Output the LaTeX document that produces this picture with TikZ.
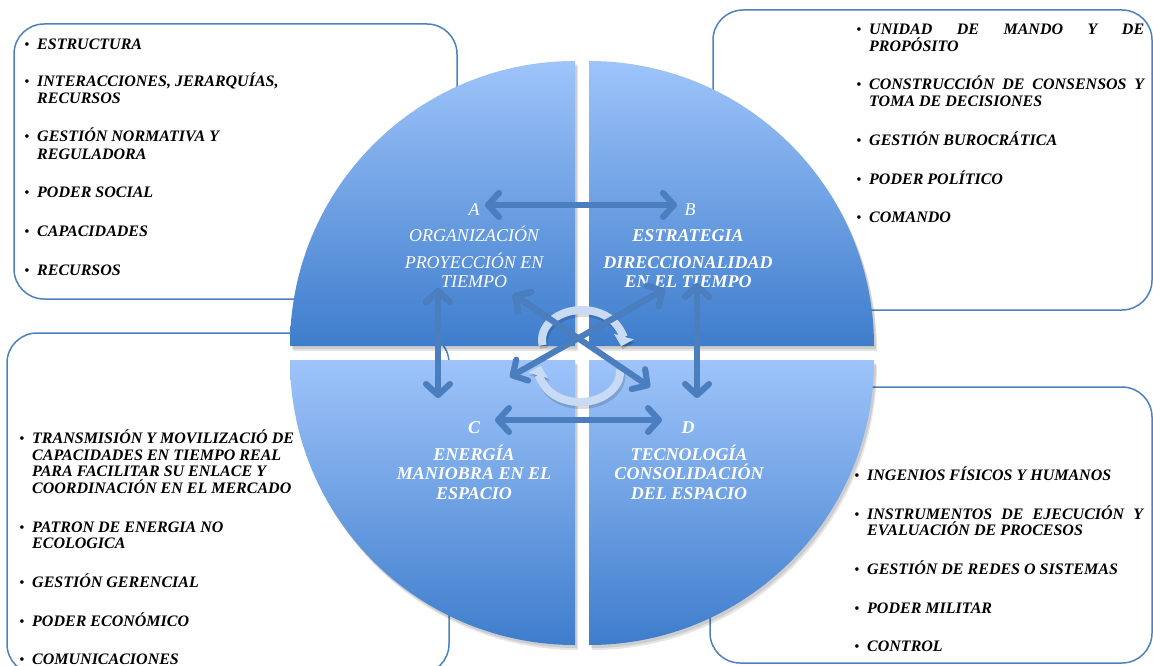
\documentclass[tikz,border=0pt]{standalone}
\usepackage{fontspec}
\setmainfont{Liberation Serif}
\usetikzlibrary{arrows.meta}
\definecolor{boxc}{RGB}{79,129,189}
\definecolor{qlight}{RGB}{158,196,250}
\definecolor{qdark}{RGB}{62,125,204}
\definecolor{arrc}{RGB}{74,126,190}
\definecolor{circc}{RGB}{200,218,244}
\begin{document}
\begin{tikzpicture}[x=1pt,y=-1pt,
  boxst/.style={draw=boxc, line width=1.5pt, fill=white, rounded corners=30pt},
  item/.style={anchor=base west, inner sep=0pt, font=\fontsize{16}{16.7}\selectfont\bfseries\itshape},
  bul/.style={anchor=base, inner sep=0pt, font=\fontsize{15}{16.7}\selectfont},
  lab/.style={anchor=base, inner sep=0pt, text=white, font=\fontsize{18}{19.5}\selectfont\itshape},
  labb/.style={anchor=base, inner sep=0pt, text=white, font=\fontsize{18}{19.5}\selectfont\bfseries\itshape},
  quad/.style={top color=qlight, bottom color=qdark},
  qshadow/.style={fill=black, opacity=0.10},
  dbl/.style={draw=arrc, line width=6pt, {Straight Barb[length=11pt,width=24pt,round]}-{Straight Barb[length=11pt,width=24pt,round]}},
  dblshadow/.style={draw=black, opacity=0.12, line width=6pt, {Straight Barb[length=11pt,width=24pt,round]}-{Straight Barb[length=11pt,width=24pt,round]}},
  circarrow/.style={draw=circc, line width=8pt, -{Triangle[length=10pt,width=20pt]}},
  circshadow/.style={draw=black, opacity=0.14, line width=8pt, -{Triangle[length=10pt,width=20pt]}}
]
\useasboundingbox (0,0) rectangle (1153,666);
\fill[white] (0,0) rectangle (1153,666);

% ---------- boxes ----------
\draw[boxst] (14,24) rectangle (457,299);
\draw[boxst] (713,10) rectangle (1152,310);
\draw[boxst] (7,333) rectangle (449,674);
\draw[boxst] (710,387) rectangle (1152,663);

% ---------- quadrant shadows ----------
\foreach \dx/\dy in {2/3,3/5}{
  \fill[qshadow] (575+\dx,346+\dy) -- (290+\dx,346+\dy) arc[start angle=180,end angle=270,radius=285] -- cycle;
  \fill[qshadow] (589+\dx,346+\dy) -- (589+\dx,61+\dy) arc[start angle=270,end angle=360,radius=285] -- cycle;
  \fill[qshadow] (575+\dx,360+\dy) -- (290+\dx,360+\dy) arc[start angle=180,end angle=90,radius=285] -- cycle;
  \fill[qshadow] (589+\dx,360+\dy) -- (874+\dx,360+\dy) arc[start angle=0,end angle=90,radius=285] -- cycle;
}
% ---------- quadrants ----------
\shade[quad] (575,346) -- (290,346) arc[start angle=180,end angle=270,radius=285] -- cycle;
\shade[quad] (589,346) -- (589,61) arc[start angle=270,end angle=360,radius=285] -- cycle;
\shade[quad] (575,360) -- (290,360) arc[start angle=180,end angle=90,radius=285] -- cycle;
\shade[quad] (589,360) -- (874,360) arc[start angle=0,end angle=90,radius=285] -- cycle;

% ---------- box texts ----------
% top-left
\node[bul] (tlb1) at (27,49.3) {•};   \node[item] (tl1) at (37,49.3) {ESTRUCTURA};
\node[bul] (tlb2) at (27,86.7) {•};   \node[item] (tl2) at (37,86.7) {INTERACCIONES, JERARQUÍAS,};
\node[item] (tl2b) at (37,103.3) {RECURSOS};
\node[bul] (tlb3) at (27,141.7) {•};  \node[item] (tl3) at (37,141.7) {GESTIÓN NORMATIVA Y};
\node[item] (tl3b) at (37,159) {REGULADORA};
\node[bul] (tlb4) at (27,197.7) {•};  \node[item] (tl4) at (37,197.7) {PODER SOCIAL};
\node[bul] (tlb5) at (27,236) {•};    \node[item] (tl5) at (37,236) {CAPACIDADES};
\node[bul] (tlb6) at (27,275) {•};    \node[item] (tl6) at (37,275) {RECURSOS};
% top-right
\node[bul] (trb1) at (859,35) {•};    \node[item] (tr1) at (869,35) {\makebox[275pt][s]{UNIDAD DE MANDO Y DE}};
\node[item] (tr1b) at (869,51.7) {PROPÓSITO};
\node[bul] (trb2) at (859,90) {•};    \node[item] (tr2) at (869,90) {\makebox[275pt][s]{CONSTRUCCIÓN DE CONSENSOS Y}};
\node[item] (tr2b) at (869,106.7) {TOMA DE DECISIONES};
\node[bul] (trb3) at (859,145) {•};   \node[item] (tr3) at (869,145) {GESTIÓN BUROCRÁTICA};
\node[bul] (trb4) at (859,184.3) {•}; \node[item] (tr4) at (869,184.3) {PODER POLÍTICO};
\node[bul] (trb5) at (859,222.7) {•}; \node[item] (tr5) at (869,222.7) {COMANDO};
% bottom-left
\node[bul] (blb1) at (22,443.7) {•};  \node[item] (bl1) at (32,443.7) {TRANSMISIÓN Y MOVILIZACIÓ DE};
\node[item] (bl1b) at (32,460.7) {CAPACIDADES EN TIEMPO REAL};
\node[item] (bl1c) at (32,476.7) {PARA FACILITAR SU ENLACE Y};
\node[item] (bl1d) at (32,493.3) {COORDINACIÓN EN EL MERCADO};
\node[bul] (blb2) at (22,532.7) {•};  \node[item] (bl2) at (32,532.7) {PATRON DE ENERGIA NO};
\node[item] (bl2b) at (32,548.3) {ECOLOGICA};
\node[bul] (blb3) at (22,587.7) {•};  \node[item] (bl3) at (32,587.7) {GESTIÓN GERENCIAL};
\node[bul] (blb4) at (22,626.7) {•};  \node[item] (bl4) at (32,626.7) {PODER ECONÓMICO};
\node[bul] (blb5) at (22,664) {•};    \node[item] (bl5) at (32,664) {COMUNICACIONES};
% bottom-right
\node[bul] (brb1) at (857,480) {•};   \node[item] (br1) at (867,480) {INGENIOS FÍSICOS Y HUMANOS};
\node[bul] (brb2) at (857,519.3) {•}; \node[item] (br2) at (867,519.3) {\makebox[276pt][s]{INSTRUMENTOS DE EJECUCIÓN Y}};
\node[item] (br2b) at (867,535) {EVALUACIÓN DE PROCESOS};
\node[bul] (brb3) at (857,574.3) {•}; \node[item] (br3) at (867,574.3) {GESTIÓN DE REDES O SISTEMAS};
\node[bul] (brb4) at (857,613.3) {•}; \node[item] (br4) at (867,613.3) {PODER MILITAR};
\node[bul] (brb5) at (857,651.7) {•}; \node[item] (br5) at (867,651.7) {CONTROL};

% ---------- circle labels ----------
\node[lab] (la) at (474,215) {A};
\node[lab] (la1) at (474,241.7) {ORGANIZACIÓN};
\node[lab] (la2) at (474,268.5) {PROYECCIÓN EN};
\node[lab] (la3) at (474,287) {TIEMPO};
\node[lab] (lb) at (690,215) {B};
\node[labb] (lb1) at (688,241.7) {ESTRATEGIA};
\node[labb] (lb2) at (688,268.5) {DIRECCIONALIDAD};
\node[labb] (lb3) at (688,287) {EN EL TIEMPO};
\node[labb] (lc) at (474,433) {C};
\node[labb] (lc1) at (474,460) {ENERGÍA};
\node[labb] (lc2) at (474,479.3) {MANIOBRA EN EL};
\node[labb] (lc3) at (474,499.3) {ESPACIO};
\node[labb] (ld) at (688,433) {D};
\node[labb] (ld1) at (689,460) {TECNOLOGÍA};
\node[labb] (ld2) at (689,479.3) {CONSOLIDACIÓN};
\node[labb] (ld3) at (689,499.3) {DEL ESPACIO};

% ---------- circular arrows ----------
\draw[circshadow] (583.5,343) ++(170:40 and 30) arc[start angle=170,end angle=372,x radius=40,y radius=30];
\draw[circshadow] (581.5,375) ++(-5:40 and 30) arc[start angle=-5,end angle=192,x radius=40,y radius=30];
\draw[circarrow] (582,340) ++(170:40 and 30) arc[start angle=170,end angle=372,x radius=40,y radius=30];
\draw[circarrow] (580,372) ++(-5:40 and 30) arc[start angle=-5,end angle=192,x radius=40,y radius=30];

% ---------- arrow end points ----------
\coordinate (h1a) at (485,205); \coordinate (h1b) at (677,205);
\coordinate (h2a) at (495,420); \coordinate (h2b) at (662,420);
\coordinate (v1a) at (438,288); \coordinate (v1b) at (438,398);
\coordinate (v2a) at (697,283); \coordinate (v2b) at (697,398);
\coordinate (d1a) at (513,294); \coordinate (d1b) at (650,387);
\coordinate (d2a) at (665,289); \coordinate (d2b) at (510,377);

\begin{scope}[shift={(1.5,3)}]
\foreach \a/\b in {h1a/h1b,h2a/h2b,v1a/v1b,v2a/v2b,d1a/d1b,d2a/d2b}
  \draw[dblshadow] (\a) -- (\b);
\end{scope}
\foreach \a/\b in {h1a/h1b,h2a/h2b,v1a/v1b,v2a/v2b,d1a/d1b,d2a/d2b}
  \draw[dbl] (\a) -- (\b);
\end{tikzpicture}
\end{document}
